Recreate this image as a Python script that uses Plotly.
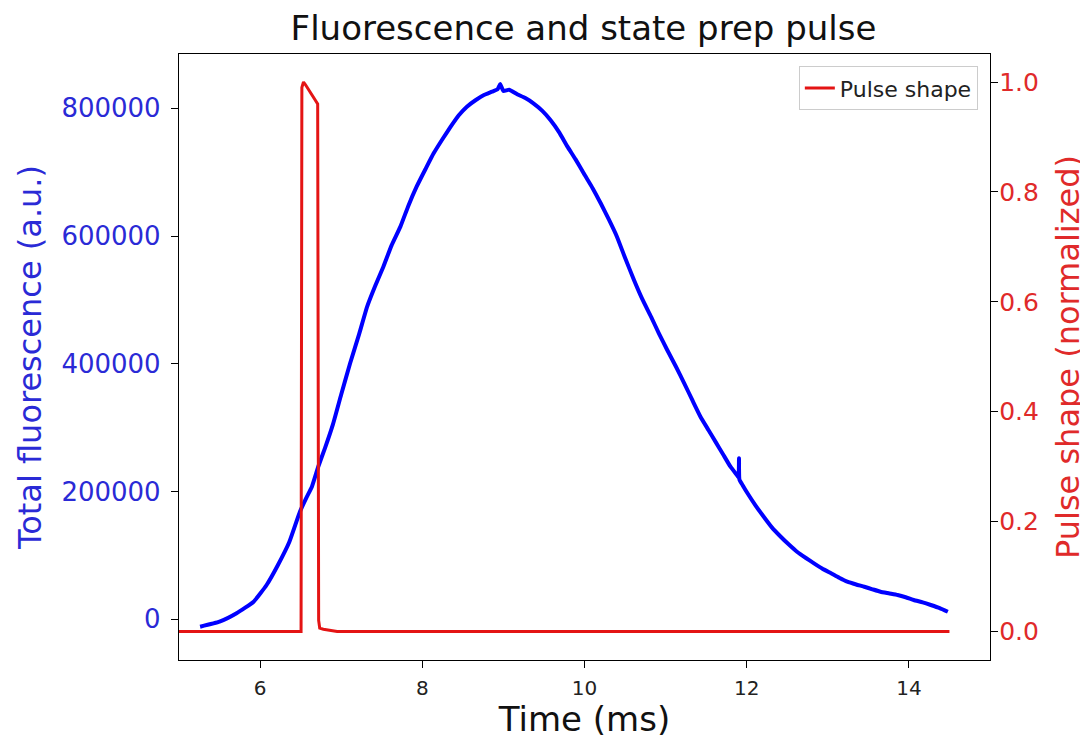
import plotly.graph_objects as go

# Fluorescence (left axis)
fluor_time = [5.26, 5.5, 5.71, 5.92, 6.08, 6.22, 6.36, 6.49, 6.57, 6.64, 6.72, 6.8, 6.9, 7.0, 7.11,
              7.22, 7.32, 7.42, 7.52, 7.62, 7.73, 7.83, 7.93, 8.04, 8.14, 8.25, 8.35, 8.45, 8.55,
              8.66, 8.76, 8.86, 8.93, 8.96, 9.0, 9.07, 9.17, 9.27, 9.37, 9.48, 9.58, 9.69, 9.79,
              9.89, 9.99, 10.1, 10.2, 10.3, 10.4, 10.5, 10.61, 10.71, 10.82, 10.92, 11.02, 11.13,
              11.23, 11.33, 11.43, 11.53, 11.62, 11.71, 11.8, 11.89, 11.9, 11.905, 11.91, 11.95,
              12.01, 12.11, 12.21, 12.31, 12.42, 12.52, 12.62, 12.73, 12.83, 12.93, 13.04, 13.14,
              13.24, 13.35, 13.45, 13.55, 13.65, 13.76, 13.86, 13.96, 14.06, 14.17, 14.27, 14.38, 14.48]
fluor_value = [-11600, -3800, 9400, 27600, 53700, 85000, 121000, 168000, 190000, 208000, 240000,
               268000, 306000, 352000, 400800, 446000, 489400, 522000, 552000, 585000, 614700,
               648000, 677300, 705000, 729500, 752000, 771200, 789000, 802500, 813000, 820800,
               826000, 830000, 838000, 827000, 829000, 822000, 816000, 807800, 796000, 781700,
               762000, 740000, 720000, 698200, 675000, 651300, 626000, 599000, 566000, 531200,
               502000, 473700, 447000, 421600, 395000, 369500, 343000, 317200, 296000, 277000,
               258000, 238900, 224000, 222000, 252000, 219000, 210000, 197300, 178000, 160600,
               144000, 129300, 117000, 105800, 96000, 87600, 79500, 72000, 65000, 58900, 54500,
               51000, 47000, 43200, 40500, 38000, 34500, 30200, 26500, 22400, 17500, 11900]

# Pulse shape (right axis)
pulse_time = [5.0, 6.505, 6.515, 6.535, 6.56, 6.71, 6.722, 6.735, 6.78, 6.85, 6.95, 14.5]
pulse_value = [0.0, 0.0, 0.99, 1.0, 0.995, 0.96, 0.02, 0.006, 0.004, 0.002, 0.0, 0.0]

# Tick labels
x_ticks = [6, 8, 10, 12, 14]
left_ticks = [0, 200000, 400000, 600000, 800000]
left_tick_text = ["0", "200000", "400000", "600000", "800000"]
right_ticks = [0.0, 0.2, 0.4, 0.6, 0.8, 1.0]
right_tick_text = ["0.0", "0.2", "0.4", "0.6", "0.8", "1.0"]

FONT = "DejaVu Sans"
BLUE = "#0000ff"
RED = "#e41414"
LBLUE = "#2a2ad6"
LRED = "#e02a2a"

# the page body has an 8px margin, so the figure is 8px smaller than the window
W, H = 1080, 731

fig = go.Figure()
fig.add_trace(go.Scatter(x=fluor_time, y=fluor_value, mode="lines",
                         line=dict(color=BLUE, width=4, shape="spline", smoothing=0.4),
                         showlegend=False, yaxis="y"))
fig.add_trace(go.Scatter(x=pulse_time, y=pulse_value, mode="lines", name="Pulse shape",
                         line=dict(color=RED, width=3), yaxis="y2"))

fig.update_layout(
    width=W, height=H,
    margin=dict(l=171, r=98, t=46, b=79),
    plot_bgcolor="white", paper_bgcolor="white",
    font=dict(family=FONT),
    title=dict(text="Fluorescence and state prep pulse", x=575.5 / W, xanchor="center",
               xref="container", y=1 - 20 / H, yanchor="middle",
               font=dict(size=34, color="#111", family=FONT)),
    xaxis=dict(range=[5, 15], tickvals=x_ticks, ticks="outside", ticklen=7, tickwidth=1.2,
               tickcolor="black", showline=True, linecolor="black", linewidth=1.3, mirror=True,
               showgrid=False, zeroline=False, tickfont=dict(size=20, color="#222"),
               automargin=False, ticklabelstandoff=3,
               title=dict(text="Time (ms)", font=dict(size=34, color="#111"), standoff=6)),
    yaxis=dict(range=[-63700, 885000], tickvals=left_ticks, ticktext=left_tick_text,
               ticks="outside", ticklen=7, tickwidth=1.2, tickcolor="black", showline=True,
               linecolor="black", linewidth=1.3, mirror=True, showgrid=False, zeroline=False,
               tickfont=dict(size=26, color=LBLUE), automargin=False, ticklabelstandoff=5,
               title=dict(text="Total fluorescence (a.u.)", font=dict(size=32, color=LBLUE),
                          standoff=10)),
    yaxis2=dict(range=[-0.052, 1.051], tickvals=right_ticks, ticktext=right_tick_text,
                overlaying="y", side="right", ticks="outside", ticklen=7, tickwidth=1.2,
                tickcolor="black", showline=True, linecolor="black", linewidth=1.3,
                showgrid=False, zeroline=False, tickfont=dict(size=25, color=LRED),
                automargin=False, ticklabelstandoff=-4,
                title=dict(text="Pulse shape (normalized)", font=dict(size=32, color=LRED),
                           standoff=18)),
    legend=dict(x=0.985, y=0.98, xanchor="right", yanchor="top", bgcolor="white",
                bordercolor="#cccccc", borderwidth=1, font=dict(size=22, color="#222")),
)

fig.write_html("out.html")
